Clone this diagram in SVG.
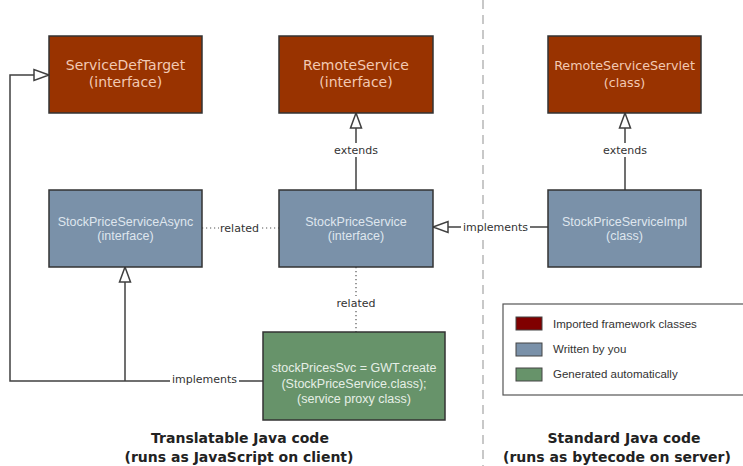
<svg xmlns="http://www.w3.org/2000/svg" width="743" height="466" viewBox="0 0 743 466">
<style>
.red{fill:#993300;stroke:#333;stroke-width:1.5}
.blue{fill:#7a91a9;stroke:#333;stroke-width:1.5}
.green{fill:#67936a;stroke:#333;stroke-width:1.5}
.rt{font-family:"DejaVu Sans",Verdana,sans-serif;font-size:14px;fill:#f2c9b3;text-anchor:middle}
.bt{font-family:"Liberation Sans",Arial,sans-serif;font-size:12.5px;fill:#dfe6ee;text-anchor:middle}
.gt{font-family:"Liberation Sans",Arial,sans-serif;font-size:12.5px;fill:#e6efe6;text-anchor:middle}
.ln{fill:none;stroke:#404040;stroke-width:1.5}
.dot{fill:none;stroke:#555;stroke-width:1.2;stroke-dasharray:1.2 2.8}
.lbl{font-family:"DejaVu Sans",Verdana,sans-serif;font-size:11px;fill:#333;text-anchor:middle}
.lg{font-family:"Liberation Sans",Arial,sans-serif;font-size:11.5px;fill:#333}
.ft{font-family:"DejaVu Sans",Verdana,sans-serif;font-size:14px;font-weight:bold;fill:#222;text-anchor:middle}
.arr{fill:#fff;stroke:#404040;stroke-width:1.5}
</style>
<rect width="743" height="466" fill="#fff"/>
<line x1="483" y1="0" x2="483" y2="466" stroke="#c8c8c8" stroke-width="2" stroke-dasharray="9 6"/>
<g id="connectors">
  <polyline class="ln" points="263,381 10,381 10,75 34,75"/>
  <polygon class="arr" points="49,75 34,69.5 34,80.5"/>
  <line class="ln" x1="125" y1="381" x2="125" y2="282"/>
  <polygon class="arr" points="125,267 119.5,282 130.5,282"/>
  <rect x="170" y="373" width="69" height="14" fill="#fff"/>
  <text class="lbl" x="204.5" y="383">implements</text>
  <line class="ln" x1="356" y1="190" x2="356" y2="128"/>
  <polygon class="arr" points="356,113 350.5,128 361.5,128"/>
  <rect x="330" y="143" width="52" height="14" fill="#fff"/>
  <text class="lbl" x="356" y="154">extends</text>
  <line class="ln" x1="625" y1="190" x2="625" y2="128"/>
  <polygon class="arr" points="625,113 619.5,128 630.5,128"/>
  <rect x="599" y="143" width="52" height="14" fill="#fff"/>
  <text class="lbl" x="625" y="154">extends</text>
  <line class="ln" x1="548" y1="227" x2="448" y2="227"/>
  <polygon class="arr" points="433,227 448,221.5 448,232.5"/>
  <rect x="461" y="220" width="69" height="14" fill="#fff"/>
  <text class="lbl" x="495.5" y="231">implements</text>
  <line class="dot" x1="202" y1="228" x2="279" y2="228"/>
  <rect x="219" y="221" width="41" height="14" fill="#fff"/>
  <text class="lbl" x="239.5" y="232">related</text>
  <line class="dot" x1="356" y1="267" x2="356" y2="332"/>
  <rect x="334" y="296" width="44" height="14" fill="#fff"/>
  <text class="lbl" x="356" y="307">related</text>
</g>
<g id="ServiceDefTarget">
  <rect class="red" x="49" y="36" width="153" height="77"/>
  <text class="rt" x="125.5" y="70">ServiceDefTarget</text>
  <text class="rt" x="125.5" y="87">(interface)</text>
</g>
<g id="RemoteService">
  <rect class="red" x="279" y="36" width="154" height="77"/>
  <text class="rt" x="356" y="70">RemoteService</text>
  <text class="rt" x="356" y="87">(interface)</text>
</g>
<g id="RemoteServiceServlet">
  <rect class="red" x="548" y="36" width="153" height="77"/>
  <text class="rt" x="624.5" y="70" style="font-size:12.7px">RemoteServiceServlet</text>
  <text class="rt" x="624.5" y="87" style="font-size:12.7px">(class)</text>
</g>
<g id="StockPriceServiceAsync">
  <rect class="blue" x="49" y="190" width="153" height="77"/>
  <text class="bt" x="125.5" y="226">StockPriceServiceAsync</text>
  <text class="bt" x="125.5" y="240">(interface)</text>
</g>
<g id="StockPriceService">
  <rect class="blue" x="279" y="190" width="154" height="77"/>
  <text class="bt" x="356" y="226">StockPriceService</text>
  <text class="bt" x="356" y="240">(interface)</text>
</g>
<g id="StockPriceServiceImpl">
  <rect class="blue" x="548" y="190" width="153" height="77"/>
  <text class="bt" x="624.5" y="226">StockPriceServiceImpl</text>
  <text class="bt" x="624.5" y="240">(class)</text>
</g>
<g id="GeneratedProxy">
  <rect class="green" x="263" y="332" width="182" height="88"/>
  <text class="gt" x="354" y="372">stockPricesSvc = GWT.create</text>
  <text class="gt" x="354" y="388">(StockPriceService.class);</text>
  <text class="gt" x="354" y="403">(service proxy class)</text>
</g>
<g id="legend">
  <rect x="503" y="304" width="245" height="91" fill="#fff" stroke="#555" stroke-width="1.2"/>
  <rect x="516" y="317" width="26" height="13" fill="#800000" stroke="#444"/>
  <text class="lg" x="553" y="327.5">Imported framework classes</text>
  <rect x="516" y="343" width="26" height="13" fill="#7a91a9" stroke="#444"/>
  <text class="lg" x="553" y="353">Written by you</text>
  <rect x="516" y="368" width="26" height="13" fill="#67936a" stroke="#444"/>
  <text class="lg" x="553" y="378">Generated automatically</text>
</g>
<g id="footer">
  <text class="ft" x="240" y="443">Translatable Java code</text>
  <text class="ft" x="239" y="462">(runs as JavaScript on client)</text>
  <text class="ft" x="624" y="443">Standard Java code</text>
  <text class="ft" x="617" y="462">(runs as bytecode on server)</text>
</g>
</svg>
